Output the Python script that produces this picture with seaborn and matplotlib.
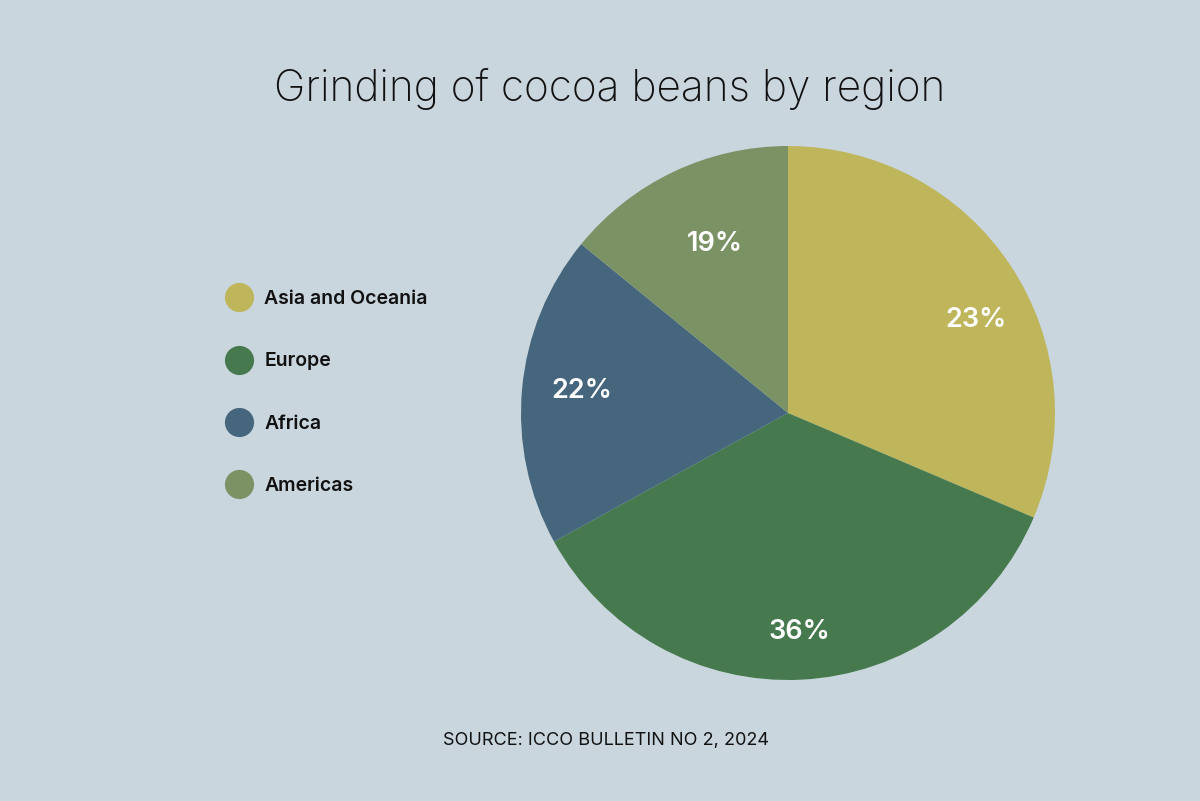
import matplotlib
matplotlib.use("Agg")
import matplotlib.pyplot as plt
from matplotlib.lines import Line2D
import numpy as np
import seaborn as sns

# regions, slice sizes (share of the circle), printed labels
regions = ["Asia and Oceania", "Europe", "Africa", "Americas"]
slice_sizes = [31.4, 35.6, 18.9, 14.1]
pct_labels = ["23%", "36%", "22%", "19%"]
colors = ["#BFB65B", "#467A4E", "#45667D", "#7B9265"]

title = "Grinding of cocoa beans by region"
source = "SOURCE: ICCO BULLETIN NO 2, 2024"

bg = "#C9D6DE"
ink = "#111111"

sns.set_theme(style="white")
plt.rcParams["font.family"] = ["Inter", "DejaVu Sans"]
plt.rcParams["text.color"] = ink

fig = plt.figure(figsize=(12, 8.01), dpi=100, facecolor=bg)

# pie axes: square box centred on the pie
cx, cy, r = 788, 413, 267
ax = fig.add_axes([(cx - r) / 1200, (801 - cy - r) / 801, 2 * r / 1200, 2 * r / 801])
ax.set_facecolor(bg)
wedges, _ = ax.pie(slice_sizes, colors=colors, startangle=90, counterclock=False,
                   radius=1, wedgeprops=dict(linewidth=0))
ax.set_xlim(-1, 1)
ax.set_ylim(-1, 1)
ax.set_aspect("equal")
ax.axis("off")

# percentage labels near the middle of each wedge
label_dist = [0.785, 0.82, 0.775, 0.69]
angle_shift = [-7, 0, -1, -2]
for w, lab, d, s in zip(wedges, pct_labels, label_dist, angle_shift):
    mid = np.deg2rad((w.theta1 + w.theta2) / 2 + s)
    ax.text(d * np.cos(mid), d * np.sin(mid), lab, ha="center", va="center",
            color="white", fontsize=19.5, fontweight="semibold")

fig.text(0.508, 0.889, title, ha="center", va="center", fontsize=30.5,
         fontweight="light", color=ink)
fig.text(0.5054, 0.076, source, ha="center", va="center", fontsize=13,
         color=ink)

handles = [Line2D([0], [0], marker="o", linestyle="", markersize=21,
                  markerfacecolor=c, markeredgewidth=0) for c in colors]
leg = fig.legend(handles, regions, loc="center left", bbox_to_anchor=(0.1683, 0.5098),
                 frameon=False, labelspacing=2.28, handletextpad=0.3,
                 prop=dict(size=14, weight="semibold"))
for t in leg.get_texts():
    t.set_color(ink)

fig.savefig("out.png", dpi=100, facecolor=bg)
